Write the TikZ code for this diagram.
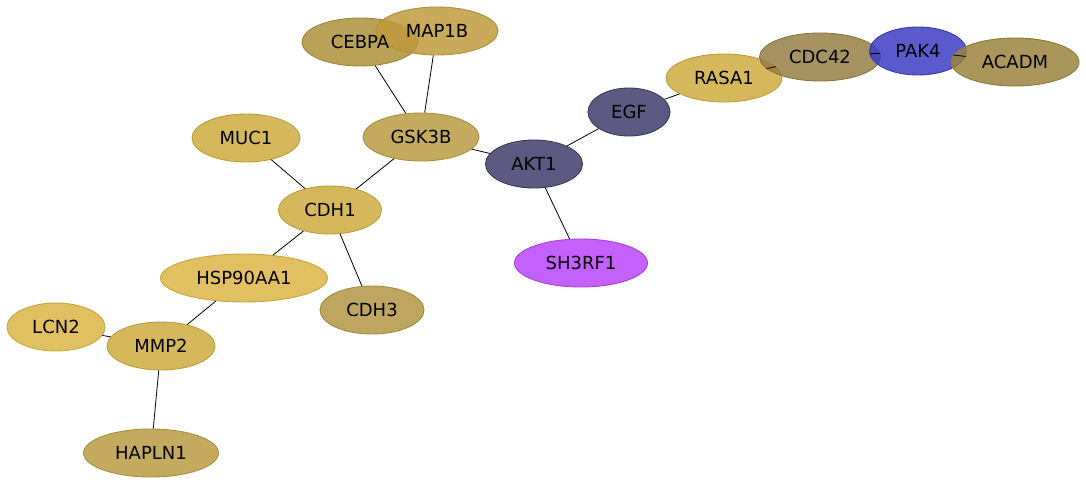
\documentclass[tikz,border=0pt]{standalone}
\usepackage{fontspec}
\setmainfont{DejaVu Sans}
\usepackage{tikz}
\usepackage{xcolor}
\usetikzlibrary{shapes, positioning}

\definecolor{goldA}{RGB}{207,172,64}
\definecolor{goldB}{RGB}{186,155,66}
\definecolor{goldC}{RGB}{174,144,59}
\definecolor{goldD}{RGB}{191,155,61}
\definecolor{goldE}{RGB}{219,181,68}
\definecolor{goldF}{RGB}{179,151,68}
\definecolor{oliveA}{RGB}{151,127,68}
\definecolor{oliveB}{RGB}{155,132,61}
\definecolor{slate}{RGB}{64,61,106}
\definecolor{royal}{RGB}{61,61,195}
\definecolor{violet}{RGB}{186,68,250}

\begin{document}
\begin{tikzpicture}[x=1pt, y=-1pt,
        prot/.style={ellipse, draw=#1!92!black, fill=#1, fill opacity=0.85, draw opacity=1,
            inner sep=0pt, minimum height=48pt, line width=0.9pt},
        tag/.style={inner sep=0pt, font=\fontsize{18}{20}\selectfont},
        link/.style={line width=0.8pt}]
        \useasboundingbox (0, 0) rectangle (1086, 485);

        % shapes
        \node[prot=goldB, minimum width=116pt] (gsk3b) at (421, 137) {};
        \node[prot=goldC, minimum width=116pt] (cebpa) at (360, 42) {};
        \node[prot=goldD, minimum width=122pt] (map1b) at (437, 31) {};
        \node[prot=goldA, minimum width=108pt] (muc1) at (246, 138) {};
        \node[prot=slate, minimum width=97pt] (akt1) at (534, 164) {};
        \node[prot=slate, minimum width=82pt] (egf) at (629, 112) {};
        \node[prot=goldA, minimum width=116pt] (rasa1) at (724, 78) {};
        \node[prot=oliveA, minimum width=121pt] (cdc42) at (820, 57) {};
        \node[prot=royal, minimum width=97pt] (pak4) at (918, 51) {};
        \node[prot=oliveB, minimum width=128pt] (acadm) at (1015, 62) {};
        \node[prot=goldA, minimum width=103pt] (cdh1) at (330, 210) {};
        \node[prot=violet, minimum width=133pt] (sh3rf1) at (581, 263) {};
        \node[prot=goldE, minimum width=167pt] (hsp90aa1) at (244, 278) {};
        \node[prot=goldF, minimum width=104pt] (cdh3) at (372, 310) {};
        \node[prot=goldE, minimum width=98pt] (lcn2) at (56, 327) {};
        \node[prot=goldA, minimum width=108pt] (mmp2) at (161, 346) {};
        \node[prot=goldB, minimum width=135pt] (hapln1) at (151, 453) {};

        % names on top of every shape
        \foreach \n/\t in {gsk3b/GSK3B, cebpa/CEBPA, map1b/MAP1B, muc1/MUC1,
                akt1/AKT1, egf/EGF, rasa1/RASA1, cdc42/CDC42, pak4/PAK4,
                acadm/ACADM, cdh1/CDH1, sh3rf1/SH3RF1, hsp90aa1/HSP90AA1,
                cdh3/CDH3, lcn2/LCN2, mmp2/MMP2, hapln1/HAPLN1}
            \node[tag] (\n-t) at (\n) {\t};

        \draw[link] (cebpa) to (gsk3b);
        \draw[link] (map1b) to (gsk3b);
        \draw[link] (gsk3b) to (akt1);
        \draw[link] (gsk3b) to (cdh1);
        \draw[link] (muc1) to (cdh1);
        \draw[link] (cdh1) to (hsp90aa1);
        \draw[link] (cdh1) to (cdh3);
        \draw[link] (hsp90aa1) to (mmp2);
        \draw[link] (lcn2) to (mmp2);
        \draw[link] (mmp2) to (hapln1);
        \draw[link] (akt1) to (egf);
        \draw[link] (akt1) to (sh3rf1);
        \draw[link] (egf) to (rasa1);
        \draw[link] (rasa1) to (cdc42);
        \draw[link] (cdc42) to (pak4);
        \draw[link] (pak4) to (acadm);
    \end{tikzpicture}
\end{document}
